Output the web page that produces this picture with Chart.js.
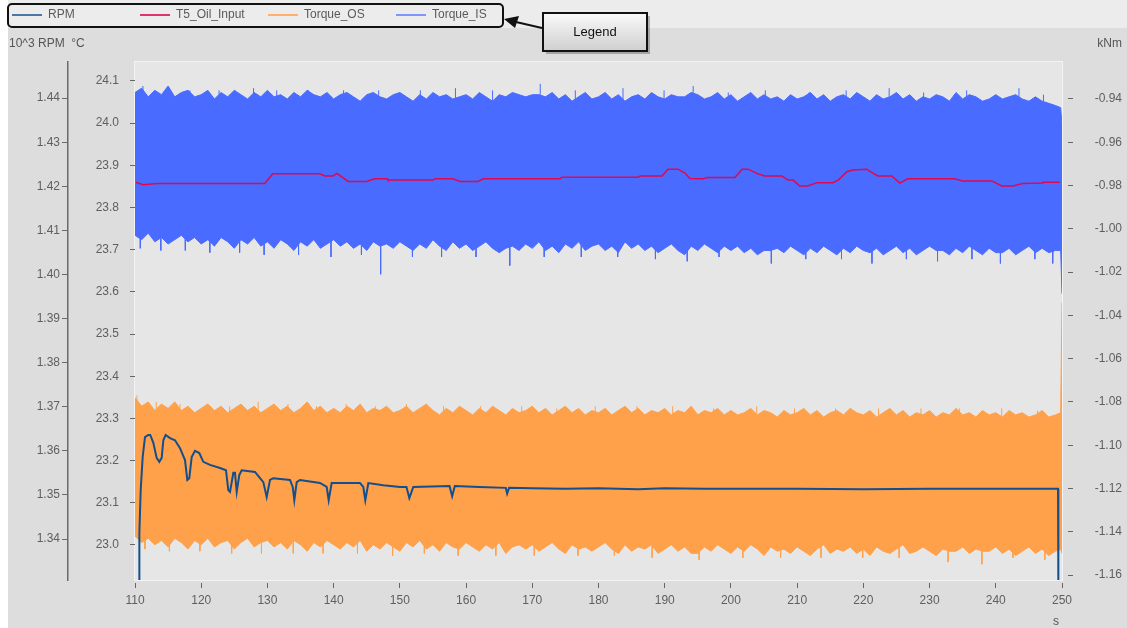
<!DOCTYPE html>
<html>
<head>
<meta charset="utf-8">
<script src="https://cdn.jsdelivr.net/npm/chart.js@4.4.0/dist/chart.umd.min.js"></script>
<style>
  html, body { margin: 0; padding: 0; background: #fff; }
  canvas { display: block; }
</style>
</head>
<body>
<canvas id="chart" width="1127" height="628"></canvas>
<script>
// RPM trace (10^3 RPM)
const rpmTime = [110.65, 110.66, 110.86, 111.16, 111.51, 112.0, 112.3, 112.77, 113.27, 113.67, 114.03, 114.28, 114.63, 115.29,
    116.04, 116.8, 117.55, 117.9, 118.2, 118.56, 119.06, 119.71, 120.32, 121.33, 122.84, 123.74, 124.09, 124.35, 124.85,
    125.1, 125.36, 125.75, 126.11, 128.12, 128.88, 129.38, 129.89, 130.39, 130.89, 133.41, 133.82, 134.06, 134.42, 134.92,
    137.94, 138.95, 139.25, 139.7, 143.98, 144.48, 144.78, 145.24, 147.5, 150.02, 151.0, 151.43, 152.03, 157.5, 157.9,
    158.3, 162.0, 166.0, 166.2, 166.5, 170.0, 175.0, 180.0, 186.0, 190.0, 196.0, 200.0, 210.0, 220.0, 230.0, 240.0,
    249.4, 249.45];
const rpmValue = [1.330, 1.3414, 1.3511, 1.3586, 1.3631, 1.3636, 1.3636, 1.3618, 1.3584, 1.3575, 1.3584, 1.3624, 1.3636, 1.3629,
    1.3624, 1.3606, 1.3579, 1.3534, 1.3538, 1.3586, 1.3600, 1.3595, 1.3575, 1.3568, 1.3561, 1.3556, 1.3511, 1.3507, 1.3550,
    1.3550, 1.3507, 1.3545, 1.3556, 1.3552, 1.3538, 1.3529, 1.3495, 1.3534, 1.3538, 1.3534, 1.3518, 1.3488, 1.3529, 1.3534,
    1.3527, 1.3518, 1.3488, 1.3527, 1.3527, 1.3518, 1.3488, 1.3527, 1.3522, 1.3518, 1.3518, 1.3493, 1.3518, 1.3520, 1.3497,
    1.3520, 1.3518, 1.3516, 1.3503, 1.3516, 1.3515, 1.3514, 1.3515, 1.3513, 1.3515, 1.3514, 1.3514, 1.3514, 1.3513, 1.3514, 1.3514,
    1.3514, 1.330];

// T5_Oil_Input (°C)
const oilTime = [110.15, 111.2, 113.3, 129.6, 130.8, 137.9, 138.7, 139.9, 140.5, 142.2, 145.0, 146.2, 148.1, 148.2, 155.0,
    155.3, 158.0, 159.1, 161.8, 162.6, 174.2, 174.5, 186.0, 186.3, 189.6, 190.5, 192.0, 193.1, 193.8, 195.8, 196.4, 200.6,
    201.7, 202.6, 203.9, 205.1, 207.7, 208.6, 209.4, 210.4, 211.6, 213.0, 215.4, 216.2, 217.5, 218.4, 220.5, 221.5, 222.2,
    224.3, 225.5, 226.7, 233.8, 235.0, 239.4, 240.9, 242.6, 244.0, 247.0, 247.1, 249.7];
const oilTemp = [23.860, 23.854, 23.857, 23.857, 23.880, 23.880, 23.875, 23.875, 23.881, 23.862, 23.862, 23.868, 23.868, 23.865, 23.865,
    23.868, 23.868, 23.862, 23.862, 23.868, 23.868, 23.872, 23.872, 23.875, 23.875, 23.891, 23.891, 23.881, 23.869, 23.868, 23.871, 23.871,
    23.891, 23.891, 23.881, 23.875, 23.875, 23.865, 23.865, 23.851, 23.851, 23.859, 23.859, 23.865, 23.885, 23.889, 23.891, 23.881, 23.875,
    23.875, 23.858, 23.868, 23.868, 23.863, 23.863, 23.851, 23.851, 23.857, 23.858, 23.860, 23.860];

// torque bands (kNm): upper and lower envelope, one reading per second, plus the end transient
const torqueTime = Array.from({ length: 140 }, (_, i) => 110 + i).concat([249.8, 250]);
const torqueIsHigh = [
    -0.937, -0.935, -0.939, -0.936, -0.938, -0.934, -0.939, -0.937, -0.936, -0.939,
    -0.938, -0.936, -0.940, -0.937, -0.939, -0.936, -0.938, -0.940, -0.937, -0.939,
    -0.936, -0.939, -0.938, -0.940, -0.937, -0.939, -0.936, -0.938, -0.939, -0.937,
    -0.940, -0.938, -0.937, -0.939, -0.941, -0.938, -0.937, -0.939, -0.940, -0.938,
    -0.937, -0.939, -0.941, -0.938, -0.940, -0.937, -0.939, -0.938, -0.940, -0.939,
    -0.938, -0.940, -0.937, -0.939, -0.941, -0.938, -0.939, -0.937, -0.938, -0.939,
    -0.938, -0.938, -0.939, -0.937, -0.940, -0.938, -0.941, -0.939, -0.937, -0.940,
    -0.939, -0.937, -0.940, -0.938, -0.941, -0.939, -0.938, -0.940, -0.937, -0.939,
    -0.940, -0.938, -0.939, -0.939, -0.937, -0.938, -0.940, -0.939, -0.937, -0.940,
    -0.938, -0.941, -0.939, -0.937, -0.940, -0.938, -0.940, -0.939, -0.941, -0.938,
    -0.940, -0.939, -0.937, -0.940, -0.938, -0.941, -0.939, -0.938, -0.940, -0.937,
    -0.939, -0.941, -0.938, -0.940, -0.939, -0.937, -0.940, -0.938, -0.941, -0.939,
    -0.940, -0.938, -0.939, -0.941, -0.937, -0.940, -0.938, -0.939, -0.941, -0.940,
    -0.938, -0.940, -0.939, -0.938, -0.940, -0.941, -0.939, -0.941, -0.942, -0.943,
    -0.944, -0.952];
const torqueIsLow = [
    -1.003, -1.005, -1.002, -1.006, -1.004, -1.007, -1.005, -1.003, -1.006, -1.004,
    -1.007, -1.005, -1.008, -1.004, -1.006, -1.009, -1.005, -1.007, -1.004, -1.008,
    -1.006, -1.009, -1.005, -1.007, -1.010, -1.006, -1.008, -1.005, -1.009, -1.007,
    -1.005, -1.008, -1.006, -1.009, -1.007, -1.010, -1.006, -1.008, -1.007, -1.009,
    -1.006, -1.008, -1.010, -1.007, -1.009, -1.005, -1.008, -1.010, -1.006, -1.009,
    -1.007, -1.010, -1.008, -1.006, -1.009, -1.011, -1.009, -1.008, -1.010, -1.007,
    -1.009, -1.006, -1.010, -1.008, -1.011, -1.007, -1.009, -1.006, -1.010, -1.008,
    -1.007, -1.010, -1.008, -1.011, -1.006, -1.009, -1.007, -1.010, -1.008, -1.011,
    -1.009, -1.007, -1.010, -1.012, -1.008, -1.010, -1.007, -1.009, -1.011, -1.008,
    -1.010, -1.008, -1.011, -1.009, -1.012, -1.010, -1.010, -1.009, -1.011, -1.008,
    -1.010, -1.012, -1.009, -1.011, -1.008, -1.010, -1.012, -1.009, -1.011, -1.008,
    -1.010, -1.011, -1.009, -1.012, -1.010, -1.008, -1.011, -1.009, -1.012, -1.010,
    -1.008, -1.010, -1.010, -1.012, -1.009, -1.011, -1.008, -1.010, -1.012, -1.009,
    -1.011, -1.011, -1.009, -1.012, -1.010, -1.008, -1.011, -1.009, -1.011, -1.010,
    -1.010, -1.030];
const torqueOsHigh = [
    -1.078, -1.082, -1.080, -1.084, -1.081, -1.083, -1.080, -1.084, -1.082, -1.085,
    -1.083, -1.081, -1.084, -1.082, -1.085, -1.083, -1.081, -1.084, -1.082, -1.085,
    -1.083, -1.081, -1.084, -1.082, -1.085, -1.083, -1.080, -1.084, -1.082, -1.085,
    -1.083, -1.085, -1.082, -1.084, -1.081, -1.085, -1.083, -1.084, -1.082, -1.085,
    -1.084, -1.082, -1.085, -1.083, -1.081, -1.084, -1.086, -1.083, -1.085, -1.082,
    -1.084, -1.086, -1.083, -1.085, -1.082, -1.084, -1.086, -1.083, -1.085, -1.084,
    -1.082, -1.085, -1.083, -1.086, -1.084, -1.082, -1.085, -1.083, -1.086, -1.084,
    -1.085, -1.083, -1.086, -1.084, -1.082, -1.085, -1.083, -1.086, -1.084, -1.085,
    -1.083, -1.086, -1.084, -1.085, -1.082, -1.086, -1.084, -1.085, -1.083, -1.086,
    -1.084, -1.086, -1.085, -1.083, -1.086, -1.084, -1.085, -1.087, -1.084, -1.086,
    -1.085, -1.083, -1.086, -1.084, -1.087, -1.085, -1.084, -1.086, -1.083, -1.085,
    -1.086, -1.084, -1.087, -1.085, -1.083, -1.086, -1.084, -1.087, -1.085, -1.086,
    -1.084, -1.087, -1.085, -1.086, -1.083, -1.086, -1.085, -1.087, -1.084, -1.086,
    -1.085, -1.087, -1.084, -1.086, -1.085, -1.087, -1.086, -1.084, -1.087, -1.086,
    -1.085, -1.034];
const torqueOsLow = [
    -1.142, -1.145, -1.143, -1.146, -1.144, -1.147, -1.143, -1.145, -1.148, -1.144,
    -1.146, -1.143, -1.147, -1.145, -1.144, -1.148, -1.145, -1.143, -1.147, -1.145,
    -1.144, -1.147, -1.145, -1.148, -1.144, -1.146, -1.149, -1.145, -1.147, -1.144,
    -1.146, -1.148, -1.145, -1.147, -1.144, -1.149, -1.146, -1.148, -1.145, -1.147,
    -1.149, -1.145, -1.147, -1.144, -1.148, -1.146, -1.149, -1.145, -1.147, -1.148,
    -1.145, -1.147, -1.149, -1.146, -1.148, -1.145, -1.150, -1.147, -1.146, -1.148,
    -1.146, -1.149, -1.147, -1.145, -1.148, -1.150, -1.146, -1.148, -1.147, -1.149,
    -1.147, -1.145, -1.148, -1.150, -1.146, -1.149, -1.147, -1.148, -1.146, -1.150,
    -1.148, -1.146, -1.149, -1.147, -1.150, -1.150, -1.147, -1.149, -1.146, -1.148,
    -1.150, -1.147, -1.149, -1.146, -1.148, -1.151, -1.147, -1.149, -1.148, -1.150,
    -1.147, -1.149, -1.151, -1.148, -1.146, -1.150, -1.148, -1.149, -1.147, -1.150,
    -1.148, -1.151, -1.147, -1.149, -1.150, -1.148, -1.146, -1.150, -1.149, -1.147,
    -1.149, -1.151, -1.148, -1.149, -1.149, -1.147, -1.150, -1.148, -1.149, -1.149,
    -1.147, -1.150, -1.148, -1.151, -1.149, -1.147, -1.150, -1.148, -1.151, -1.149,
    -1.148, -1.150];

// single thin spikes sticking out of the band edges
const isTopSpikeTime = [111.2, 114.6, 118.3, 122.7, 127.9, 131.4, 136.2, 141.5, 146.8, 153.1, 158.4, 164.0, 171.2,
    176.5, 183.7, 189.9, 194.3, 199.6, 205.2, 211.8, 217.4, 223.9, 229.1, 235.6, 243.5, 247.2];
const isTopSpikeValue = [-0.934, -0.936, -0.936, -0.936, -0.935, -0.936, -0.936, -0.936, -0.936, -0.936, -0.935, -0.936, -0.933,
    -0.936, -0.935, -0.936, -0.934, -0.937, -0.936, -0.937, -0.936, -0.935, -0.937, -0.936, -0.935, -0.938];
const isBottomSpikeTime = [110.8, 113.9, 117.6, 121.3, 125.8, 129.5, 134.7, 139.6, 144.2, 147.1, 151.9, 156.3, 161.5, 166.6,
    171.8, 177.4, 182.9, 188.6, 193.4, 198.2, 206.1, 211.3, 216.7, 221.3, 226.5, 231.2, 236.4, 240.7, 245.9, 248.6];
const isBottomSpikeValue = [-1.009, -1.010, -1.010, -1.011, -1.011, -1.012, -1.012, -1.013, -1.012, -1.021, -1.013, -1.013, -1.013, -1.017,
    -1.013, -1.013, -1.013, -1.014, -1.015, -1.013, -1.016, -1.014, -1.014, -1.016, -1.014, -1.015, -1.014, -1.016, -1.014, -1.016];
const osTopSpikeTime = [110.3, 113.2, 116.8, 120.9, 124.3, 128.6, 133.1, 137.4, 141.9, 146.3, 151.0, 156.6, 162.2, 168.4,
    173.7, 179.5, 185.8, 191.2, 197.4, 203.9, 209.6, 215.8, 222.3, 228.7, 234.5, 240.9, 246.3];
const osTopSpikeValue = [-1.077, -1.080, -1.081, -1.081, -1.082, -1.080, -1.081, -1.082, -1.081, -1.082, -1.081, -1.082, -1.082, -1.082,
    -1.083, -1.082, -1.082, -1.082, -1.083, -1.082, -1.083, -1.083, -1.083, -1.083, -1.083, -1.083, -1.084];
const osBottomSpikeTime = [111.5, 115.2, 119.8, 124.6, 129.1, 133.9, 138.4, 143.6, 148.9, 153.7, 158.8, 164.5, 170.3, 176.9,
    182.4, 188.1, 195.2, 201.8, 207.5, 213.6, 219.9, 225.4, 232.8, 237.9, 242.6, 247.4];
const osBottomSpikeValue = [-1.148, -1.149, -1.149, -1.150, -1.150, -1.150, -1.150, -1.150, -1.151, -1.150, -1.151, -1.151, -1.151, -1.151,
    -1.151, -1.152, -1.153, -1.152, -1.152, -1.152, -1.152, -1.152, -1.154, -1.155, -1.152, -1.153];

const legendLabels = ['RPM', 'T5_Oil_Input', 'Torque_OS', 'Torque_IS'];
const legendColors = ['#4a77a8', '#e0356a', '#ffb06e', '#8096ff'];

const IS_COLOR = '#4a6bff';
const OS_COLOR = '#ffa04b';

function toPoints(xs, ys) {
    return xs.map((x, i) => ({ x: x, y: ys[i] }));
}

// each spike is a short vertical segment from inside the band out to the spike tip
function toSpikes(xs, ys, base) {
    const pts = [];
    xs.forEach((x, i) => {
        pts.push({ x: x, y: base }, { x: x, y: ys[i] }, { x: x, y: null });
    });
    return pts;
}

function spikeSet(xs, ys, base, color) {
    return {
        label: 'spikes',
        data: toSpikes(xs, ys, base),
        yAxisID: 'yTorque',
        borderColor: color,
        borderWidth: 1,
        pointRadius: 0,
        fill: false,
        spanGaps: false
    };
}

// backgrounds, the boxed legend, the callout and the unit titles
const decorations = {
    id: 'decorations',
    beforeDraw(chart) {
        const ctx = chart.ctx;
        const area = chart.chartArea;
        ctx.save();
        ctx.fillStyle = '#ffffff';
        ctx.fillRect(0, 0, chart.width, chart.height);
        ctx.fillStyle = '#ececec';
        ctx.fillRect(8, 0, chart.width - 8, 28);
        ctx.fillStyle = '#dddddd';
        ctx.fillRect(8, 28, chart.width - 8, chart.height - 28);
        ctx.fillStyle = '#e6e6e6';
        ctx.fillRect(area.left, area.top, area.right - area.left, area.bottom - area.top);
        ctx.strokeStyle = '#f3f3f3';
        ctx.lineWidth = 1;
        ctx.strokeRect(area.left - 0.5, area.top - 0.5, area.right - area.left + 1, area.bottom - area.top + 1);
        ctx.restore();
    },
    afterDraw(chart) {
        const ctx = chart.ctx;
        ctx.save();

        // legend box
        ctx.strokeStyle = '#111';
        ctx.lineWidth = 2;
        ctx.beginPath();
        ctx.roundRect(8, 4, 495, 23, 4);
        ctx.stroke();
        ctx.font = '12px "Liberation Sans", Arial, sans-serif';
        ctx.textBaseline = 'middle';
        legendLabels.forEach((label, i) => {
            const x = 12 + i * 128;
            ctx.strokeStyle = legendColors[i];
            ctx.lineWidth = 2;
            ctx.beginPath();
            ctx.moveTo(x, 15);
            ctx.lineTo(x + 30, 15);
            ctx.stroke();
            ctx.fillStyle = '#5a5a5a';
            ctx.textAlign = 'left';
            ctx.fillText(label, x + 36, 15);
        });

        // callout box with arrow
        ctx.fillStyle = 'rgba(0,0,0,0.25)';
        ctx.fillRect(546, 16, 104, 38);
        const grad = ctx.createLinearGradient(0, 13, 0, 51);
        grad.addColorStop(0, '#fafafa');
        grad.addColorStop(1, '#cfcfcf');
        ctx.fillStyle = grad;
        ctx.fillRect(543, 13, 104, 38);
        ctx.strokeStyle = '#111';
        ctx.lineWidth = 2;
        ctx.strokeRect(543, 13, 104, 38);
        ctx.fillStyle = '#111';
        ctx.textAlign = 'center';
        ctx.font = '13px "Liberation Sans", Arial, sans-serif';
        ctx.fillText('Legend', 595, 32);

        ctx.beginPath();
        ctx.moveTo(542, 28);
        ctx.lineTo(516, 22);
        ctx.stroke();
        ctx.beginPath();
        ctx.moveTo(504, 19);
        ctx.lineTo(519, 16);
        ctx.lineTo(515, 28);
        ctx.closePath();
        ctx.fill();

        // unit titles
        ctx.font = '12px "Liberation Sans", Arial, sans-serif';
        ctx.fillStyle = '#555';
        ctx.textAlign = 'left';
        ctx.fillText('10^3 RPM  °C', 9, 44);
        ctx.textAlign = 'right';
        ctx.fillText('kNm', 1122, 44);
        ctx.textAlign = 'center';
        ctx.fillText('s', 1056, 622);
        ctx.restore();
    }
};

Chart.defaults.font.family = '"Liberation Sans", Arial, sans-serif';
Chart.defaults.font.size = 12;
Chart.defaults.color = '#5f5f5f';

const ctx = document.getElementById('chart').getContext('2d');
new Chart(ctx, {
    type: 'line',
    data: {
        datasets: [
            {
                label: 'RPM',
                data: toPoints(rpmTime, rpmValue),
                yAxisID: 'yRpm',
                borderColor: '#134f8d',
                borderWidth: 2,
                pointRadius: 0,
                fill: false
            },
            {
                label: 'T5_Oil_Input',
                data: toPoints(oilTime, oilTemp),
                yAxisID: 'yTemp',
                borderColor: '#e0084e',
                borderWidth: 1.5,
                pointRadius: 0,
                fill: false
            },
            {
                label: 'Torque_IS',
                data: toPoints(torqueTime, torqueIsHigh),
                yAxisID: 'yTorque',
                borderColor: IS_COLOR,
                backgroundColor: IS_COLOR,
                borderWidth: 1,
                pointRadius: 0,
                fill: '+1'
            },
            {
                label: 'Torque_IS low',
                data: toPoints(torqueTime, torqueIsLow),
                yAxisID: 'yTorque',
                borderColor: IS_COLOR,
                borderWidth: 1,
                pointRadius: 0,
                fill: false
            },
            {
                label: 'Torque_OS',
                data: toPoints(torqueTime, torqueOsHigh),
                yAxisID: 'yTorque',
                borderColor: OS_COLOR,
                backgroundColor: OS_COLOR,
                borderWidth: 1,
                pointRadius: 0,
                fill: '+1'
            },
            {
                label: 'Torque_OS low',
                data: toPoints(torqueTime, torqueOsLow),
                yAxisID: 'yTorque',
                borderColor: OS_COLOR,
                borderWidth: 1,
                pointRadius: 0,
                fill: false
            },
            spikeSet(isTopSpikeTime, isTopSpikeValue, -0.945, IS_COLOR),
            spikeSet(isBottomSpikeTime, isBottomSpikeValue, -1.000, IS_COLOR),
            spikeSet(osTopSpikeTime, osTopSpikeValue, -1.092, OS_COLOR),
            spikeSet(osBottomSpikeTime, osBottomSpikeValue, -1.140, OS_COLOR)
        ]
    },
    options: {
        responsive: false,
        animation: false,
        devicePixelRatio: 1,
        layout: { padding: { top: 62, left: 8, right: 5, bottom: 0 } },
        plugins: {
            legend: { display: false },
            tooltip: { enabled: false }
        },
        scales: {
            x: {
                type: 'linear',
                min: 110,
                max: 250,
                ticks: { stepSize: 10, padding: 5, maxRotation: 0 },
                border: { display: false },
                grid: { drawOnChartArea: false, tickLength: 8, tickColor: '#666', tickBorderDash: [0, 3, 5, 0] },
                afterFit: (scale) => { scale.height = 48; }
            },
            yRpm: {
                position: 'left',
                weight: 2,
                min: 1.3307,
                max: 1.4482,
                ticks: { stepSize: 0.01, includeBounds: false, padding: 2, callback: (v) => v.toFixed(2) },
                border: { display: true, color: '#6b6b6b', width: 1.5 },
                grid: { drawOnChartArea: false, tickLength: 6, tickColor: '#6b6b6b' },
                afterFit: (scale) => { scale.width = 60; }
            },
            yTemp: {
                position: 'left',
                weight: 1,
                min: 22.917,
                max: 24.145,
                ticks: { stepSize: 0.1, includeBounds: false, padding: 8, callback: (v) => v.toFixed(1) },
                border: { display: false },
                grid: { drawOnChartArea: false, tickLength: 8, tickColor: '#666', tickBorderDash: [0, 3, 5, 0] },
                afterFit: (scale) => { scale.width = 67; }
            },
            yTorque: {
                position: 'right',
                min: -1.1623,
                max: -0.9229,
                ticks: { stepSize: 0.02, includeBounds: false, crossAlign: 'far', callback: (v) => v.toFixed(2) },
                border: { display: false },
                grid: { drawOnChartArea: false, tickLength: 11, tickColor: '#666', tickBorderDash: [0, 6, 5, 0] },
                afterFit: (scale) => { scale.width = 60; }
            }
        }
    },
    plugins: [decorations]
});
</script>
</body>
</html>
